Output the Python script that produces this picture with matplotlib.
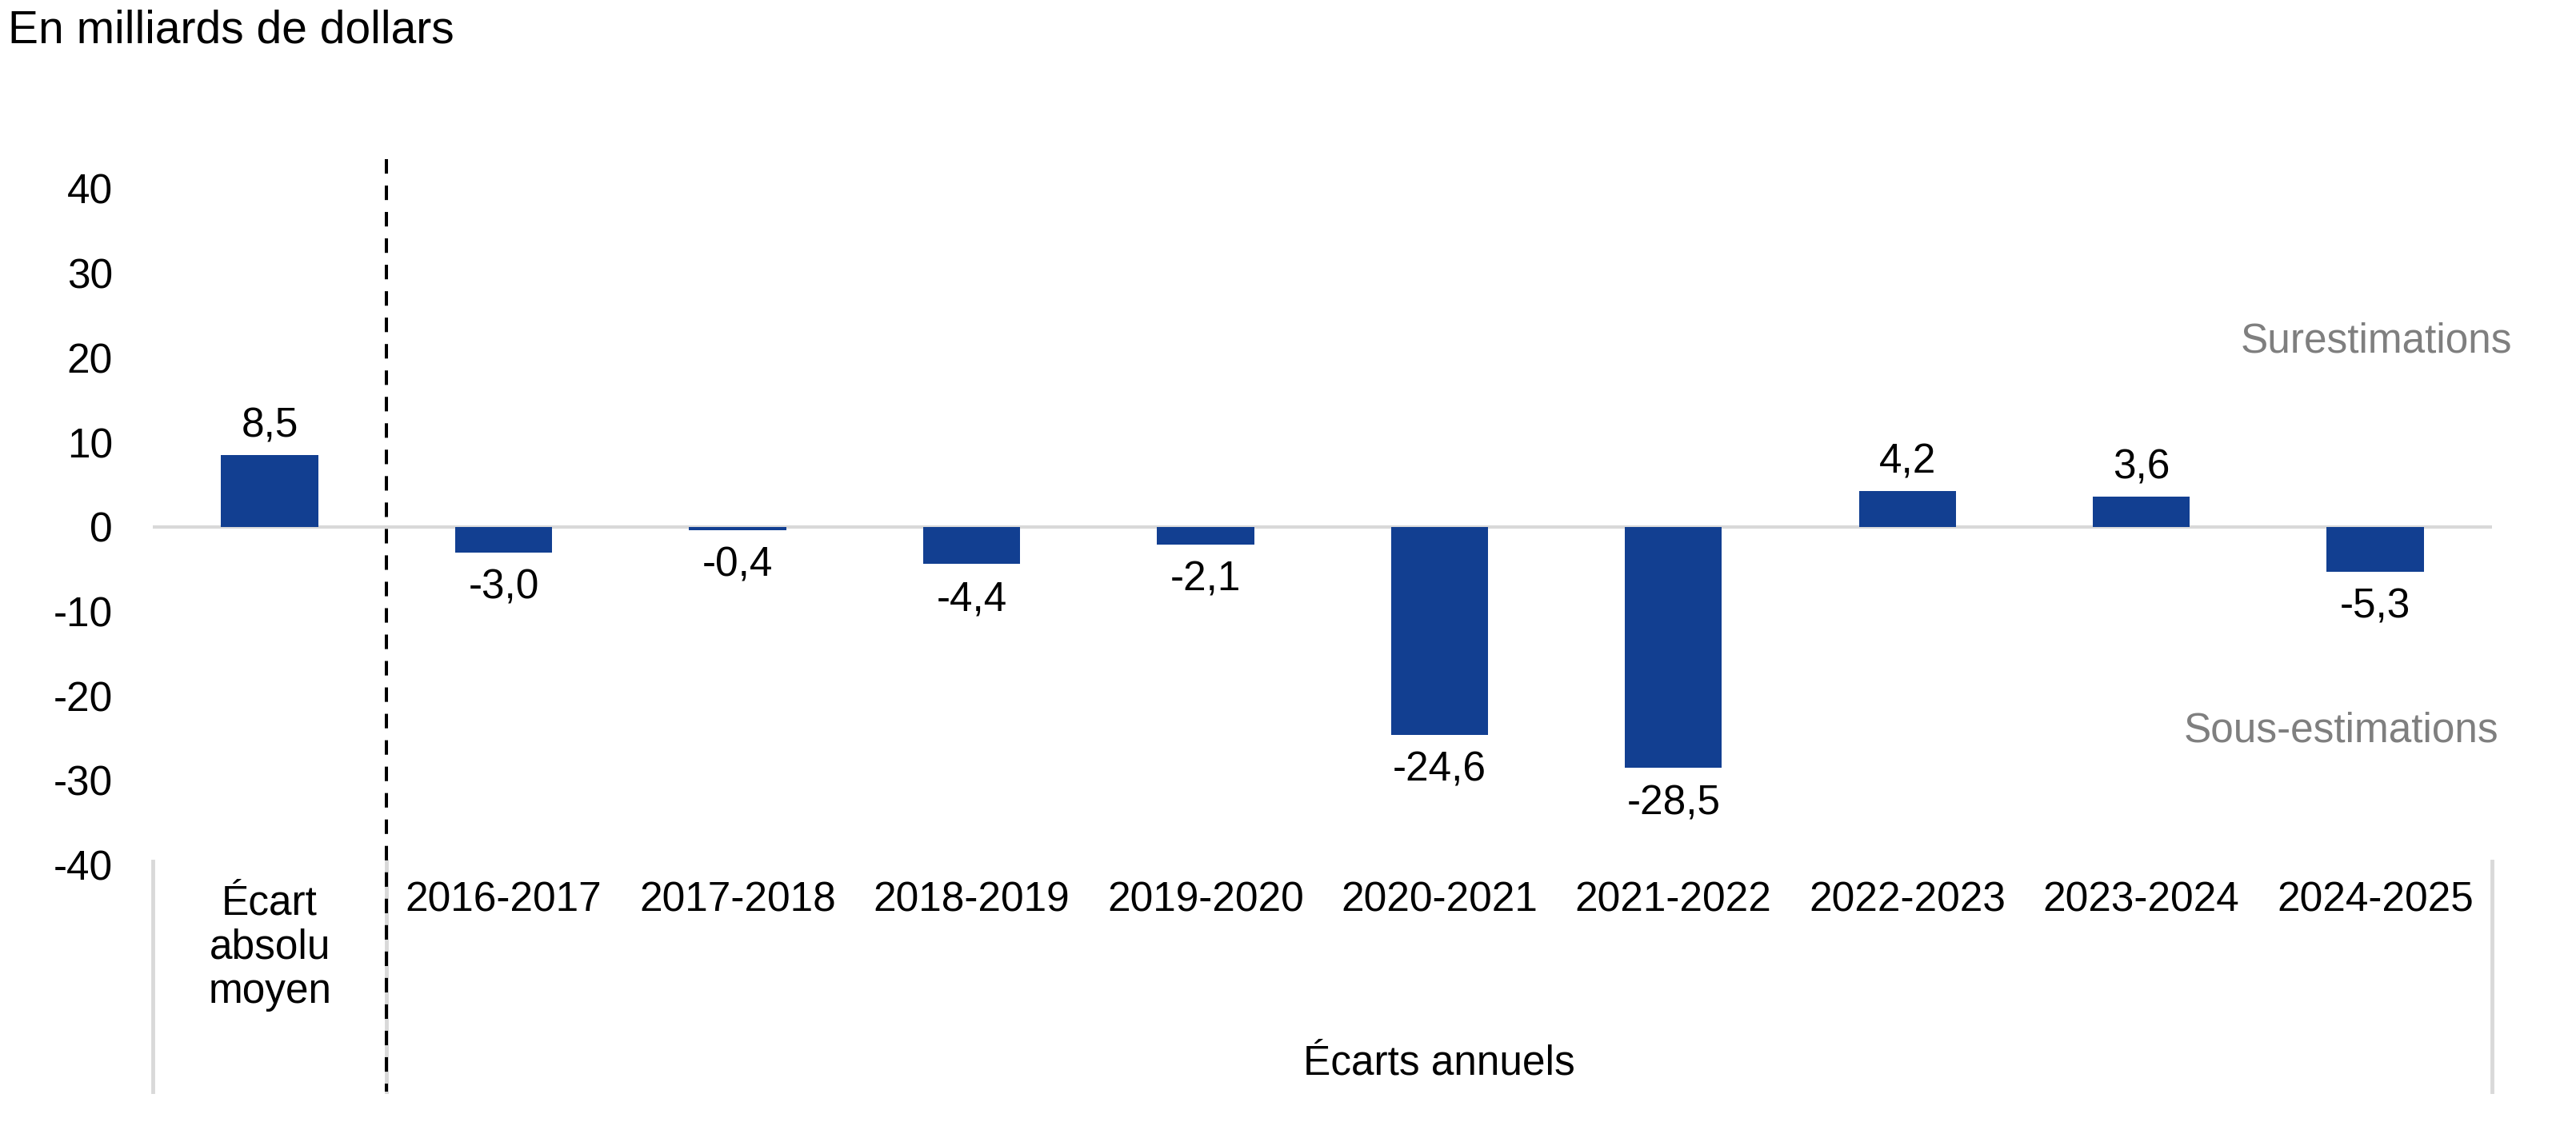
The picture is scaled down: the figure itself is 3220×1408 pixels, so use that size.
import numpy as np
import matplotlib.pyplot as plt

plt.rcParams['font.family'] = ['Liberation Sans', 'DejaVu Sans']

# ── Data ─────────────────────────────
categories = ['Écart\nabsolu\nmoyen', '2016-2017', '2017-2018', '2018-2019',
              '2019-2020', '2020-2021', '2021-2022', '2022-2023',
              '2023-2024', '2024-2025']
values = [8.5, -3.0, -0.4, -4.4, -2.1, -24.6, -28.5, 4.2, 3.6, -5.3]
y_ticks = [40, 30, 20, 10, 0, -10, -20, -30, -40]
group_label = 'Écarts annuels'

bar_color = '#123F91'
grey_line = '#d9d9d9'
fs = 37

fig = plt.figure(figsize=(32.2, 14.08), dpi=100)
ax = fig.add_axes([0.0593, 0.2318, 0.9082, 0.6006])

x = np.arange(len(categories))
bars = ax.bar(x, values, width=0.415, color=bar_color, zorder=3)

ax.set_xlim(-0.5, len(categories) - 0.5)
ax.set_ylim(-40, 40)
ax.set_yticks(y_ticks)
ax.set_yticklabels([str(t) for t in y_ticks], fontsize=fs)
ax.tick_params(axis='y', length=0, pad=36)
ax.set_xticks([])
for s in ax.spines.values():
    s.set_visible(False)

# zero line
ax.axhline(0, color=grey_line, lw=3, zorder=2)

# value labels
for xi, v in zip(x, values):
    lab = f'{v:.1f}'.replace('.', ',')
    off = 26 if v >= 0 else -32
    ax.annotate(lab, (xi, v), xytext=(0, off), textcoords='offset points',
                ha='center', va='center', fontsize=fs)

# category labels below the plot
for xi, c in zip(x, categories):
    if '\n' in c:
        ax.text(xi, -49.8, c, ha='center', va='center', fontsize=fs,
                linespacing=1.16, clip_on=False)
    else:
        ax.text(xi, -44.2, c, ha='center', va='center', fontsize=fs,
                clip_on=False)
ax.text(5, -63.5, group_label, ha='center', va='center', fontsize=fs,
        clip_on=False)

# separators in the label area
for xs in [-0.5, 0.5, len(categories) - 0.5]:
    ax.plot([xs, xs], [-39.6, -66.8], color=grey_line, lw=3.5,
            clip_on=False, zorder=1)

# dashed divider
ax.plot([0.5, 0.5], [43.5, -66.8], color='black', lw=2.9,
        dashes=(4.5, 3.7), clip_on=False, zorder=4)

# annotations
ax.text(9.584, 21.9, 'Surestimations', ha='right', va='center',
        fontsize=fs, color='#7f7f7f')
ax.text(9.528, -24.1, 'Sous-estimations', ha='right', va='center',
        fontsize=fs, color='#7f7f7f')

fig.text(0.0032, 0.973, 'En milliards de dollars', ha='left', va='center',
         fontsize=41)

fig.savefig('out.png', dpi=100)
